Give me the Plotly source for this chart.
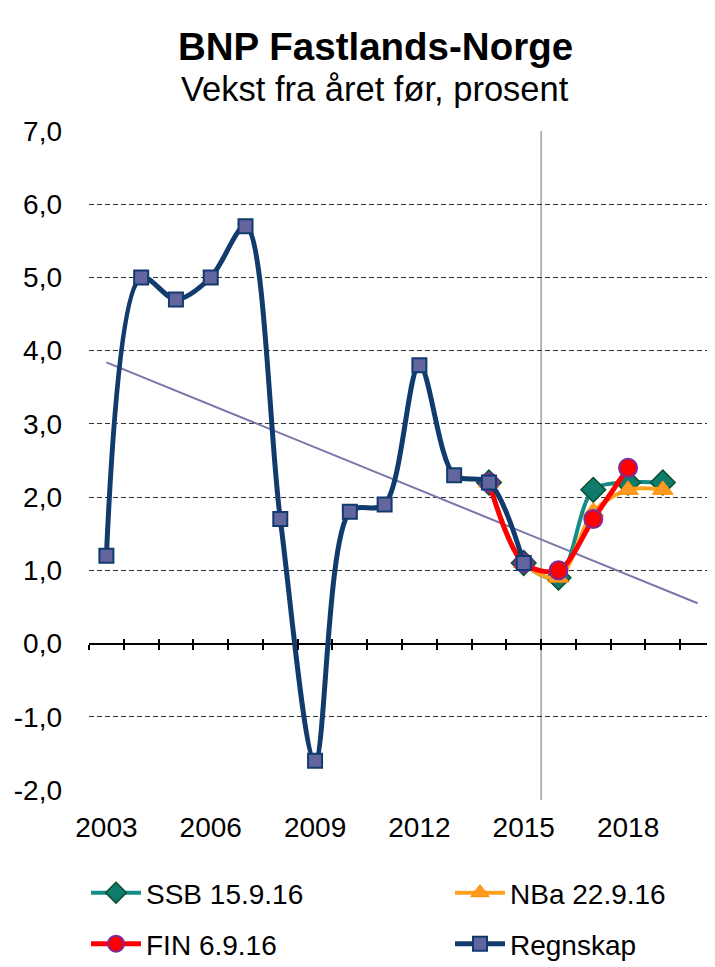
"""BNP Fastlands-Norge, vekst fra året før
"""
import plotly.graph_objects as go

# data
regnskap_years = list(range(2003, 2016))
regnskap = [1.2, 5.0, 4.7, 5.0, 5.7, 1.7, -1.6, 1.8, 1.9, 3.8, 2.3, 2.2, 1.1]

ssb_years = [2014, 2015, 2016, 2017, 2018, 2019]
ssb = [2.2, 1.1, 0.9, 2.1, 2.2, 2.2]

nba_years = [2014, 2015, 2016, 2017, 2018, 2019]
nba = [2.2, 1.1, 0.9, 1.8, 2.1, 2.1]

fin_years = [2014, 2015, 2016, 2017, 2018]
fin = [2.2, 1.1, 1.0, 1.7, 2.4]

trend_years = [2003, 2020]
trend = [3.84, 0.55]

x_label_years = [2003, 2006, 2009, 2012, 2015, 2018]
x_labels = ["2003", "2006", "2009", "2012", "2015", "2018"]
y_ticks = [-2, -1, 0, 1, 2, 3, 4, 5, 6, 7]
y_labels = ["-2,0", "-1,0", "0,0", "1,0", "2,0", "3,0", "4,0", "5,0", "6,0", "7,0"]

first_year, last_year = 2003, 2020
forecast_start = 2015.5

# page geometry (the html body adds an 8px margin around the figure)
PAGE_W, PAGE_H, BODY = 715, 967, 8
W, H = PAGE_W - BODY, PAGE_H - BODY
PLOT_L, PLOT_T, PLOT_B = 89, 131, 790          # plot box on the page
YEAR_PX = (PAGE_W - PLOT_L) / (last_year - first_year + 1)
ML, MT = PLOT_L - BODY, PLOT_T - BODY
MB = PAGE_H - PLOT_B
PW, PH = W - ML, PLOT_B - PLOT_T
FONT = "Liberation Sans, Arial, sans-serif"


def px_x(px):
    return (px - PLOT_L) / PW


def px_y(py):
    return (PLOT_B - py) / PH


x_range = [first_year - 0.5, first_year - 0.5 + PW / YEAR_PX]
y_range = [y_ticks[0], y_ticks[-1]]
zero_pos = (0 - y_range[0]) / (y_range[1] - y_range[0])
boundaries = [y + 0.5 for y in range(first_year - 1, last_year + 1)]

fig = go.Figure()

fig.add_trace(go.Scatter(
    x=trend_years, y=trend, mode="lines",
    line=dict(color="#7B76AA", width=2),
    showlegend=False, hoverinfo="skip",
))
fig.add_trace(go.Scatter(
    x=ssb_years, y=ssb, name="SSB 15.9.16", mode="lines+markers",
    line=dict(color="#178C86", width=4, shape="spline", smoothing=0.9),
    marker=dict(symbol="diamond", size=19, color="#0E7B6C",
                line=dict(color="#0A4F2E", width=1.5)),
    legend="legend",
))
fig.add_trace(go.Scatter(
    x=nba_years, y=nba, name="NBa 22.9.16", mode="lines+markers",
    line=dict(color="#FFA21F", width=4, shape="spline", smoothing=0.9),
    marker=dict(symbol="triangle-up", size=18, color="#FF9A22",
                line=dict(color="#FF8C00", width=1)),
    legend="legend2",
))
fig.add_trace(go.Scatter(
    x=fin_years, y=fin, name="FIN 6.9.16", mode="lines+markers",
    line=dict(color="#FF0000", width=5, shape="spline", smoothing=0.9),
    marker=dict(symbol="circle", size=18, color="#FF0000",
                line=dict(color="#7B2C9A", width=2)),
    legend="legend3",
))
fig.add_trace(go.Scatter(
    x=regnskap_years, y=regnskap, name="Regnskap", mode="lines+markers",
    line=dict(color="#123B6D", width=5, shape="spline", smoothing=0.9),
    marker=dict(symbol="square", size=14, color="#62659E",
                line=dict(color="#123B6D", width=2)),
    legend="legend4",
))
# empty traces so the tick-only axes on the zero line get drawn
for ax in ("x2", "x3"):
    fig.add_trace(go.Scatter(x=[], y=[], xaxis=ax, showlegend=False,
                             hoverinfo="skip"))

fig.add_shape(type="line", xref="x", yref="paper",
              x0=forecast_start, x1=forecast_start, y0=px_y(800), y1=1,
              line=dict(color="#A0A0A0", width=1.5), layer="below")

# left slide border
fig.add_shape(type="line", xref="paper", yref="paper",
              x0=px_x(7), x1=px_x(7), y0=px_y(967), y1=px_y(12),
              line=dict(color="#CCCCCC", width=1.5))

fig.add_annotation(text="<b>BNP Fastlands-Norge</b>", xref="paper", yref="paper",
                   x=px_x(375), y=px_y(47), showarrow=False,
                   xanchor="center", yanchor="middle",
                   font=dict(family=FONT, size=38.5, color="black"))
fig.add_annotation(text="Vekst fra året før, prosent", xref="paper", yref="paper",
                   x=px_x(375), y=px_y(89), showarrow=False,
                   xanchor="center", yanchor="middle",
                   font=dict(family=FONT, size=34.5, color="black"))

zero_axis = dict(
    overlaying="x", anchor="free", position=zero_pos, range=x_range,
    tickvals=boundaries, ticklen=5, tickwidth=1.5, tickcolor="black",
    showticklabels=False, showgrid=False, zeroline=False, showline=False,
)


def legend_box(px, py):
    return dict(
        orientation="h", x=px_x(px), y=px_y(py), xanchor="left", yanchor="middle",
        itemwidth=50, font=dict(size=28), bgcolor="rgba(0,0,0,0)",
    )


fig.update_layout(
    width=W, height=H, autosize=False,
    margin=dict(l=ML, r=0, t=MT, b=MB, pad=0, autoexpand=False),
    paper_bgcolor="white", plot_bgcolor="white",
    font=dict(family=FONT, size=28, color="black"),
    xaxis=dict(
        range=x_range, tickvals=x_label_years, ticktext=x_labels,
        showgrid=False, zeroline=False, showline=False, ticks="",
        ticklabelstandoff=18, tickfont=dict(size=28),
    ),
    xaxis2=dict(zero_axis, ticks="outside"),
    xaxis3=dict(zero_axis, ticks="inside"),
    yaxis=dict(
        range=y_range, tickvals=y_ticks, ticktext=y_labels,
        showgrid=True, gridcolor="#333333", gridwidth=1, griddash="5px,3px",
        zeroline=True, zerolinecolor="black", zerolinewidth=1.5,
        showline=False, ticks="", ticklabelstandoff=26,
        tickfont=dict(size=28),
    ),
    legend=legend_box(86, 893),
    legend2=legend_box(450, 893),
    legend3=legend_box(86, 944),
    legend4=legend_box(450, 944),
    showlegend=True,
)

fig.write_html("out.html")
